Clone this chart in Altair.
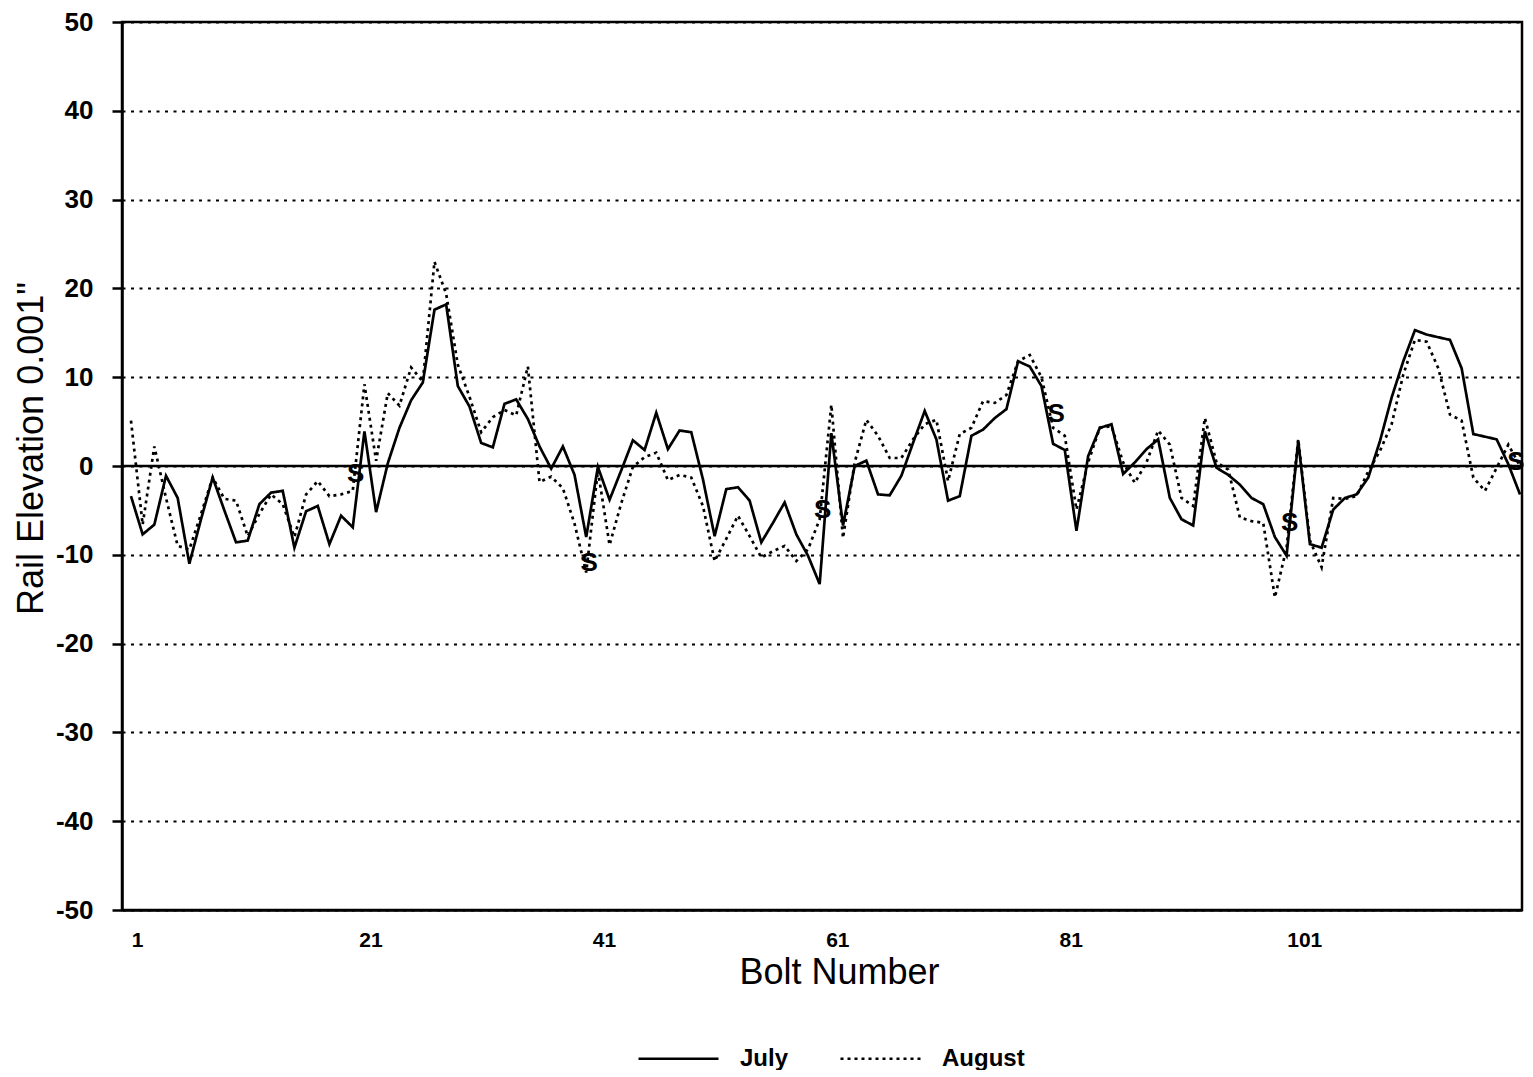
import altair as alt
import pandas as pd

# ---- data ----
bolts = list(range(1, 121))

july = [
    -3.4, -7.7, -6.6, -1.1, -3.6, -11.0, -6.0, -1.3, -5.0, -8.6,
    -8.4, -4.3, -3.0, -2.8, -9.2, -5.1, -4.5, -8.8, -5.6, -6.9,
    3.9, -5.2, 0.3, 4.3, 7.4, 9.4, 17.6, 18.2, 9.0, 6.7,
    2.6, 2.1, 7.0, 7.5, 5.3, 2.2, -0.3, 2.2, -1.0, -8.0,
    -0.1, -3.8, -0.5, 2.9, 1.8, 6.0, 1.9, 4.0, 3.8, -1.5,
    -7.9, -2.6, -2.4, -3.9, -8.6, -6.4, -4.1, -7.7, -10.1, -13.3,
    3.7, -6.7, 0.0, 0.6, -3.2, -3.3, -1.1, 2.6, 6.2, 3.0,
    -3.9, -3.4, 3.4, 4.1, 5.4, 6.4, 11.8, 11.2, 9.0, 2.5,
    1.8, -7.3, 1.1, 4.3, 4.7, -0.9, 0.4, 1.9, 3.0, -3.6,
    -6.0, -6.7, 3.9, -0.2, -1.0, -2.1, -3.6, -4.3, -8.0, -10.1,
    2.8, -8.8, -9.2, -4.9, -3.6, -3.2, -1.3, 2.8, 7.7, 11.8,
    15.3, 14.8, 14.5, 14.2, 11.0, 3.6, 3.3, 3.0, 0.2, -3.2,
]

august = [
    5.1, -6.6, 2.2, -3.6, -9.0, -9.4, -5.4, -1.3, -3.7, -3.9,
    -7.9, -5.4, -3.2, -4.3, -8.0, -3.2, -1.7, -3.4, -3.2, -2.8,
    9.2, 0.6, 8.2, 6.8, 11.1, 9.5, 23.0, 19.4, 11.4, 7.8,
    3.8, 5.5, 6.3, 5.7, 11.2, -1.8, -1.2, -2.5, -6.5, -12.0,
    -0.5, -8.9, -4.2, -0.1, 1.0, 1.5, -1.6, -1.0, -1.3, -4.5,
    -10.7, -8.2, -5.6, -7.9, -10.3, -9.6, -9.0, -10.7, -9.4, -6.0,
    6.9, -8.1, 0.4, 5.2, 3.4, 0.9, 0.9, 3.0, 4.7, 5.2,
    -1.7, 3.6, 4.3, 7.3, 7.1, 8.0, 11.8, 12.5, 10.0, 4.3,
    3.4, -4.9, 0.4, 4.3, 4.5, 0.4, -1.9, 0.4, 4.0, 2.4,
    -3.6, -4.5, 5.4, 0.4, -0.4, -5.8, -6.2, -6.4, -14.8, -9.2,
    3.0, -8.4, -11.4, -3.6, -3.7, -3.4, -0.6, 1.7, 4.7, 10.3,
    14.2, 14.0, 11.0, 5.8, 5.1, -1.3, -2.8, -0.2, 2.4, 0.0,
]

series_names = ["July", "August"]

s_bolts = [20, 40, 60, 80, 100, 119.4]
s_values = [-0.9, -10.9, -5.0, 5.9, -6.4, 0.4]
s_labels = ["S", "S", "S", "S", "S", "S"]

x_ticks = [1, 21, 41, 61, 81, 101]
y_ticks = [-50, -40, -30, -20, -10, 0, 10, 20, 30, 40, 50]
zero_line = [0]

FONT = "Liberation Sans"

# ---- tables ----
df = pd.DataFrame({
    "Bolt": bolts * 2,
    "Value": july + august,
    "Series": ["July"] * len(bolts) + ["August"] * len(bolts),
})
s_df = pd.DataFrame({"Bolt": s_bolts, "Value": s_values, "Label": s_labels})
zero_df = pd.DataFrame({"Value": zero_line})

xscale = alt.Scale(domain=[0.23, 120.17], nice=False, zero=False)
yscale = alt.Scale(domain=[-50, 50], nice=False, zero=False)

x_axis = alt.Axis(
    values=x_ticks, title="Bolt Number", grid=False, ticks=False, tickSize=0,
    labelFont=FONT, labelFontSize=21, labelFontWeight="bold", labelColor="black",
    labelBaseline="alphabetic", labelPadding=36, labelOffset=6,
    titleFont=FONT, titleFontSize=36, titleFontWeight="normal", titleColor="black",
    titleBaseline="alphabetic", titleY=73, titleX=717,
    domainColor="black", domainWidth=2.5,
)
y_axis = alt.Axis(
    values=y_ticks, title='Rail Elevation 0.001"', grid=True,
    labelExpr="'' + datum.value",
    gridColor="black", gridDash=[3, 5.5], gridWidth=2, gridOpacity=1,
    tickSize=10, tickWidth=2.5, tickColor="black",
    labelFont=FONT, labelFontSize=26, labelFontWeight="bold", labelColor="black",
    labelPadding=19,
    titleFont=FONT, titleFontSize=36, titleFontWeight="normal", titleColor="black",
    titleAngle=270, titleX=-91, titleY=426, titleAlign="center", titleBaseline="middle",
    domainColor="black", domainWidth=2.5,
)

X = alt.X("Bolt:Q", scale=xscale, axis=x_axis)
Y = alt.Y("Value:Q", scale=yscale, axis=y_axis)

lines = alt.Chart(df).mark_line(color="black", strokeWidth=2.7, strokeCap="butt").encode(
    x=X,
    y=Y,
    strokeDash=alt.StrokeDash(
        "Series:N",
        scale=alt.Scale(domain=series_names, range=[[1, 0], [3, 4]]),
        sort=series_names,
        legend=alt.Legend(
            title=None, orient="none", direction="horizontal",
            legendX=515, legendY=995, padding=0,
            symbolType="stroke", symbolSize=6400, symbolStrokeWidth=2.5,
            symbolStrokeColor="black",
            labelFont=FONT, labelFontSize=24, labelFontWeight="bold", labelColor="black",
            labelOffset=20, columnPadding=46,
        ),
    ),
    order=alt.Order("Bolt:Q"),
)

zero_rule = alt.Chart(zero_df).mark_rule(color="black", strokeWidth=2.5).encode(
    y=Y,
)

s_text = alt.Chart(s_df).mark_text(
    font=FONT, fontSize=26, fontWeight="bold", color="black",
    align="center", baseline="middle", dx=3,
).encode(
    x=X,
    y=Y,
    text="Label:N",
)

chart = alt.layer(lines, zero_rule, s_text).properties(
    width=1400,
    height=888,
    autosize=alt.AutoSizeParams(type="none"),
    padding={"left": 114, "top": 14, "right": 3, "bottom": 160},
    background="white",
).configure_view(
    stroke="black", strokeWidth=2.5,
)

chart.save("out.html", embed_options={"renderer": "svg", "actions": False})
